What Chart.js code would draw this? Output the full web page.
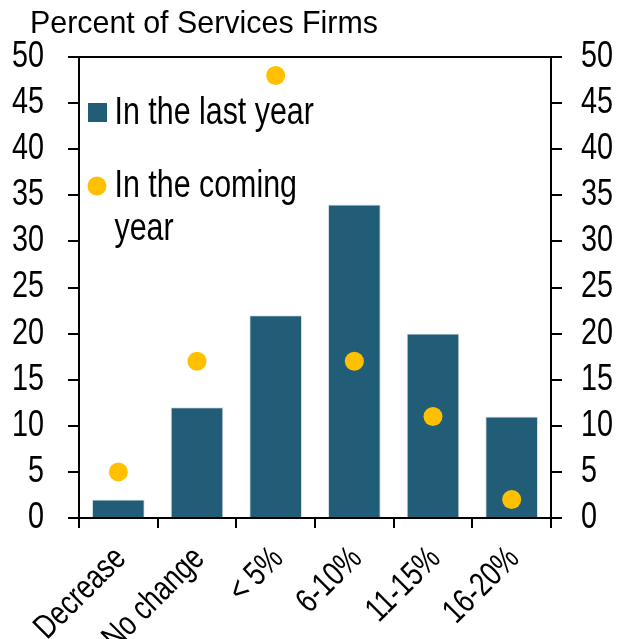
<!DOCTYPE html>
<html>
<head>
<meta charset="utf-8">
<script src="https://cdn.jsdelivr.net/npm/chart.js@4"></script>
<style>
  html, body { margin: 0; padding: 0; background: #ffffff; }
  #wrap { width: 617px; height: 639px; position: relative; }
</style>
</head>
<body>
<div id="wrap"><canvas id="c" width="617" height="639"></canvas></div>
<script>
// Survey shares by size of price change, services firms
const categories = ['Decrease', 'No change', '< 5%', '6-10%', '11-15%', '16-20%'];
const lastYear = [2, 12, 22, 34, 20, 11];
const comingYear = [5, 17, 48, 17, 11, 2];
const yMin = 0;
const yMax = 50;
const yStep = 5;
const titleText = 'Percent of Services Firms';
const legendLines = [['In the last year'], ['In the coming', 'year']];

const BAR_COLOR = '#225D78';
const DOT_COLOR = '#FFC000';
const FAMILY = '"Liberation Sans", Arial, sans-serif';

// Draw a string squeezed horizontally (condensed lettering)
function condensedText(ctx, text, x, y, size, squeeze, align, baseline, angle) {
  ctx.save();
  ctx.translate(x, y);
  if (angle) ctx.rotate(angle);
  ctx.scale(squeeze, 1);
  ctx.font = size + 'px ' + FAMILY;
  ctx.textAlign = align;
  ctx.textBaseline = baseline;
  ctx.fillStyle = '#000';
  ctx.fillText(text, 0, 0);
  ctx.restore();
}

// Title, axis labels and an in-plot legend
const overlay = {
  id: 'overlay',
  afterDraw(chart) {
    const ctx = chart.ctx;
    const { x, y, y2 } = chart.scales;

    condensedText(ctx, titleText, 30, 33, 32, 0.95, 'left', 'alphabetic');

    y.ticks.forEach((t) => {
      condensedText(ctx, String(t.value), 44, y.getPixelForValue(t.value), 36, 0.8, 'right', 'middle');
    });
    y2.ticks.forEach((t) => {
      condensedText(ctx, String(t.value), 581, y2.getPixelForValue(t.value), 36, 0.8, 'left', 'middle');
    });

    chart.data.labels.forEach((lab, i) => {
      const cx = x.getPixelForValue(i);
      condensedText(ctx, lab, cx + 9, x.top + 42, 34, 0.78, 'right', 'alphabetic', -Math.PI / 4);
    });

    ctx.save();
    ctx.fillStyle = chart.data.datasets[0].backgroundColor;
    ctx.fillRect(88, 103, 19, 19);
    ctx.fillStyle = chart.data.datasets[1].backgroundColor;
    ctx.beginPath();
    ctx.arc(97, 186, 9.5, 0, Math.PI * 2);
    ctx.fill();
    ctx.restore();
    legendLines[0].forEach((t, i) => condensedText(ctx, t, 114.5, 124 + i * 43, 38, 0.8, 'left', 'alphabetic'));
    legendLines[1].forEach((t, i) => condensedText(ctx, t, 114.5, 197 + i * 43, 38, 0.8, 'left', 'alphabetic'));
  }
};

new Chart(document.getElementById('c'), {
  type: 'bar',
  data: {
    labels: categories,
    datasets: [
      {
        label: 'In the last year',
        data: lastYear,
        backgroundColor: BAR_COLOR,
        borderColor: '#d9e2e8',
        borderWidth: 1,
        barPercentage: 0.67,
        categoryPercentage: 1,
        yAxisID: 'y',
        order: 2
      },
      {
        type: 'line',
        label: 'In the coming year',
        data: comingYear,
        showLine: false,
        backgroundColor: DOT_COLOR,
        borderColor: DOT_COLOR,
        borderWidth: 0,
        pointRadius: 9.5,
        pointHoverRadius: 9.5,
        yAxisID: 'y',
        order: 1
      }
    ]
  },
  options: {
    responsive: false,
    animation: false,
    events: [],
    layout: { padding: { top: 57, left: 0, right: 0, bottom: 0 } },
    plugins: {
      legend: { display: false },
      title: { display: false },
      tooltip: { enabled: false }
    },
    scales: {
      x: {
        grid: {
          display: true,
          drawOnChartArea: false,
          drawTicks: true,
          tickLength: 10,
          color: '#000',
          lineWidth: 2,
          offset: true
        },
        border: { color: '#000', width: 2 },
        ticks: { display: false, autoSkip: false },
        afterFit(scale) { scale.height = 121; }
      },
      y: {
        position: 'left',
        min: yMin,
        max: yMax,
        grid: {
          drawOnChartArea: true,
          color: (c) => (c.tick && c.tick.value === yMax ? '#000' : 'rgba(0,0,0,0)'),
          tickColor: '#000',
          tickLength: 11,
          lineWidth: 2
        },
        border: { color: '#000', width: 2 },
        ticks: { display: false, stepSize: yStep, autoSkip: false },
        afterFit(scale) { scale.width = 79; }
      },
      y2: {
        position: 'right',
        min: yMin,
        max: yMax,
        grid: {
          drawOnChartArea: false,
          color: '#000',
          tickColor: '#000',
          tickLength: 11,
          lineWidth: 2
        },
        border: { color: '#000', width: 2 },
        ticks: { display: false, stepSize: yStep, autoSkip: false },
        afterFit(scale) { scale.width = 66; }
      }
    }
  },
  plugins: [overlay]
});
</script>
</body>
</html>
